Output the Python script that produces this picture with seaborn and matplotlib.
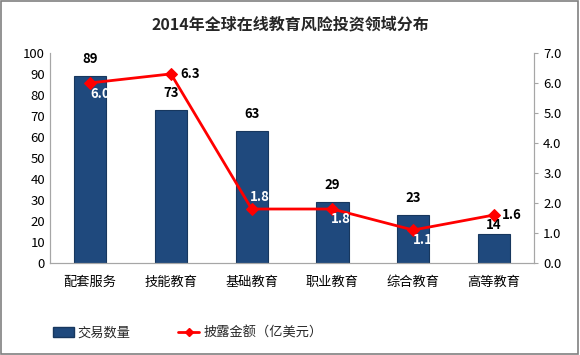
import matplotlib
matplotlib.use("Agg")
import matplotlib.pyplot as plt
import seaborn as sns
import pandas as pd
from matplotlib.lines import Line2D
from matplotlib.patches import Patch

categories = ["配套服务", "技能教育", "基础教育", "职业教育", "综合教育", "高等教育"]
deals = [89, 73, 63, 29, 23, 14]
amount = [6.0, 6.3, 1.8, 1.8, 1.1, 1.6]

sns.set_style("white")
plt.rcParams["font.family"] = ["Noto Sans CJK SC", "DejaVu Sans"]

df = pd.DataFrame({"领域": categories, "交易数量": deals, "披露金额": amount})
FS = 9.5

fig = plt.figure(figsize=(5.8, 3.55), dpi=100)
ax = fig.add_axes([0.086, 0.259, 0.835, 0.592])

sns.barplot(data=df, x="领域", y="交易数量", color="#1F497D", width=0.4,
            saturation=1, edgecolor="#17375E", linewidth=0.8, ax=ax)
ax.set_ylim(0, 100)
ax.set_yticks(range(0, 101, 10))
ax.set_xlabel("")
ax.set_ylabel("")
bar_dy = [12, 12, 12, 12, 12, 6]
for i, v in enumerate(deals):
    ax.annotate(str(v), (i, v), xytext=(0, bar_dy[i]), textcoords="offset points",
                ha="center", va="center", fontsize=FS, fontweight="bold", color="black")

ax2 = ax.twinx()
sns.lineplot(x=list(range(len(categories))), y=amount, color="#FF0000",
             marker="D", markersize=6.5, markeredgecolor="#FF0000", linewidth=2, ax=ax2)
ax2.set_ylim(0, 7)
ax2.set_yticks([i for i in range(8)])
ax2.set_yticklabels([f"{i:.1f}" for i in range(8)])

# line labels: (dx, dy in points, colour)
offs = [(0, -8, "white"), (7, 0, "black"), (-1, 9, "white"),
        (-1, -7, "white"), (0, -7, "white"), (6, 0, "black")]
for i, v in enumerate(amount):
    dx, dy, c = offs[i]
    ax2.annotate(f"{v:.1f}", (i, v), xytext=(dx, dy), textcoords="offset points",
                 ha="left", va="center", fontsize=FS, fontweight="bold", color=c)

for a in (ax, ax2):
    a.spines["top"].set_visible(False)
    for s in ("left", "right", "bottom"):
        a.spines[s].set_color("#A6A6A6")
    a.tick_params(labelsize=FS, colors="black", length=0)
ax.tick_params(axis="x", pad=9)
ax2.tick_params(axis="y", length=3, color="#A6A6A6")
ax.set_xlim(-0.5, len(categories) - 0.5)

fig.suptitle("2014年全球在线教育风险投资领域分布", y=0.955, fontsize=11.5,
             fontweight="bold")

handles = [Patch(facecolor="#1F497D", edgecolor="#17375E"),
           Line2D([0], [0], color="#FF0000", marker="D", markersize=4, linewidth=2)]
fig.legend(handles, ["交易数量", "披露金额（亿美元）"], loc="center left",
           bbox_to_anchor=(0.091, 0.062), ncol=2, frameon=False, fontsize=FS,
           columnspacing=3.6, handlelength=1.6, handletextpad=0.3,
           borderpad=0, borderaxespad=0)

fig.patches.append(plt.Rectangle((0.002, 0.003), 0.995, 0.993, transform=fig.transFigure,
                                 fill=False, edgecolor="#808080", linewidth=1.2))
fig.savefig("out.png", dpi=100)
